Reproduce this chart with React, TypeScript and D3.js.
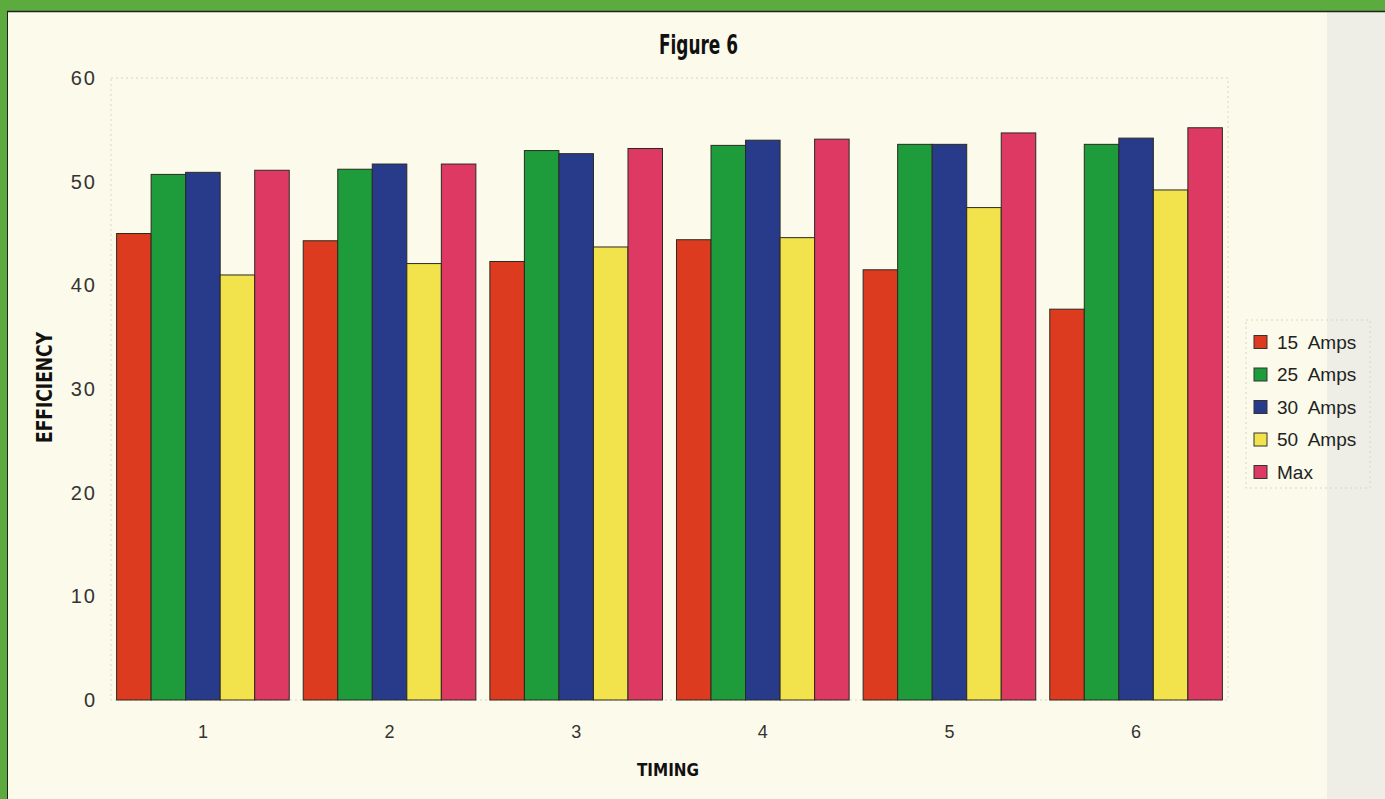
import React, { useEffect, useRef } from 'react';
import * as d3 from 'd3';

const timings = ['1', '2', '3', '4', '5', '6'];
const seriesNames = ['15 Amps', '25 Amps', '30 Amps', '50 Amps', 'Max'];
const seriesColors = ['#dc3b1f', '#1e9c3c', '#283a8a', '#f2e24c', '#de3963'];
const amps15 = [45.0, 44.3, 42.3, 44.4, 41.5, 37.7];
const amps25 = [50.7, 51.2, 53.0, 53.5, 53.6, 53.6];
const amps30 = [50.9, 51.7, 52.7, 54.0, 53.6, 54.2];
const amps50 = [41.0, 42.1, 43.7, 44.6, 47.5, 49.2];
const ampsMax = [51.1, 51.7, 53.2, 54.1, 54.7, 55.2];
const yTicks = [0, 10, 20, 30, 40, 50, 60];

const App = () => {
  const svgRef = useRef(null);

  useEffect(() => {
    const width = 1385;
    const height = 799;
    const svg = d3.select(svgRef.current).attr('width', width).attr('height', height);
    svg.selectAll('*').remove();

    const values = [amps15, amps25, amps30, amps50, ampsMax];
    const condensed = 'DejaVu Sans Condensed, DejaVu Sans, sans-serif';
    const sans = 'Liberation Sans, Arial, sans-serif';

    // page background: green frame, cream panel, grey page edge
    svg.append('rect').attr('width', width).attr('height', height).attr('fill', '#5cab3e');
    svg.append('rect').attr('x', 7).attr('y', 11).attr('width', width - 7).attr('height', height - 11).attr('fill', '#fcfaea');
    svg.append('rect').attr('x', 1327).attr('y', 12).attr('width', width - 1327).attr('height', height - 12).attr('fill', '#eeeee6');
    svg.append('line').attr('x1', 7).attr('x2', width).attr('y1', 11.5).attr('y2', 11.5).attr('stroke', '#222').attr('stroke-width', 1.5);
    svg.append('line').attr('x1', 7.5).attr('x2', 7.5).attr('y1', 11).attr('y2', height).attr('stroke', '#222').attr('stroke-width', 1);

    const x = d3.scaleBand().domain(timings).range([111, 1228]).paddingInner(0.075).paddingOuter(0.03);
    const xs = d3.scaleBand().domain(seriesNames).range([0, x.bandwidth()]).padding(0);
    const y = d3.scaleLinear().domain([0, 60]).range([700, 78]);

    // faint dashed plot frame
    svg.append('rect')
      .attr('x', 111).attr('y', y(60)).attr('width', 1228 - 111).attr('height', y(0) - y(60))
      .attr('fill', 'none').attr('stroke', '#d6d6cc').attr('stroke-dasharray', '2,3');

    const groups = svg.selectAll('.grp')
      .data(timings)
      .enter()
      .append('g')
      .attr('class', 'grp')
      .attr('transform', d => `translate(${x(d)},0)`);

    groups.selectAll('rect')
      .data((d, i) => seriesNames.map((s, j) => ({ s, j, v: values[j][i] })))
      .enter()
      .append('rect')
      .attr('x', d => xs(d.s))
      .attr('y', d => y(d.v))
      .attr('width', xs.bandwidth())
      .attr('height', d => y(0) - y(d.v))
      .attr('fill', d => seriesColors[d.j])
      .attr('stroke', '#2a2a22')
      .attr('stroke-width', 1);

    // y tick labels
    svg.append('g')
      .selectAll('text')
      .data(yTicks)
      .enter()
      .append('text')
      .attr('x', 97)
      .attr('y', d => y(d))
      .attr('dy', '0.35em')
      .attr('text-anchor', 'end')
      .attr('font-family', sans)
      .attr('font-size', 20)
      .attr('letter-spacing', 2)
      .attr('fill', '#333')
      .text(d => d);

    // x tick labels
    svg.append('g')
      .selectAll('text')
      .data(timings)
      .enter()
      .append('text')
      .attr('x', d => x(d) + x.bandwidth() / 2)
      .attr('y', 732)
      .attr('dy', '0.35em')
      .attr('text-anchor', 'middle')
      .attr('font-family', sans)
      .attr('font-size', 18)
      .attr('fill', '#333')
      .text(d => d);

    svg.append('text')
      .attr('x', 659)
      .attr('y', 54)
      .attr('font-family', condensed)
      .attr('font-weight', 'bold')
      .attr('font-size', 26)
      .attr('textLength', 79)
      .attr('lengthAdjust', 'spacingAndGlyphs')
      .attr('fill', '#111')
      .text('Figure 6');

    svg.append('text')
      .attr('transform', 'rotate(-90)')
      .attr('x', -443)
      .attr('y', 52)
      .attr('font-family', condensed)
      .attr('font-weight', 'bold')
      .attr('font-size', 22)
      .attr('textLength', 111)
      .attr('lengthAdjust', 'spacingAndGlyphs')
      .attr('fill', '#111')
      .text('EFFICIENCY');

    svg.append('text')
      .attr('x', 637)
      .attr('y', 776)
      .attr('font-family', condensed)
      .attr('font-weight', 'bold')
      .attr('font-size', 18)
      .attr('textLength', 62)
      .attr('lengthAdjust', 'spacingAndGlyphs')
      .attr('fill', '#111')
      .text('TIMING');

    // legend
    const legend = svg.append('g').attr('transform', 'translate(1246,320)');
    legend.append('rect')
      .attr('width', 124).attr('height', 168)
      .attr('fill', 'none').attr('stroke', '#d6d6cc').attr('stroke-dasharray', '2,3');
    const items = legend.selectAll('.item')
      .data(seriesNames)
      .enter()
      .append('g')
      .attr('class', 'item')
      .attr('transform', (d, i) => `translate(8,${22 + i * 32.5})`);
    items.append('rect')
      .attr('x', 0).attr('y', -6.5).attr('width', 13).attr('height', 13)
      .attr('fill', (d, i) => seriesColors[i])
      .attr('stroke', '#333');
    items.append('text')
      .attr('x', 23)
      .attr('dy', '0.36em')
      .attr('font-family', sans)
      .attr('font-size', 19)
      .attr('fill', '#222')
      .style('white-space', 'pre')
      .text(d => d.replace(' ', '  '));
  }, []);

  return (
    <div>
      <svg ref={svgRef} style={{ position: 'absolute', left: 0, top: 0 }}></svg>
    </div>
  );
};

export default App;
